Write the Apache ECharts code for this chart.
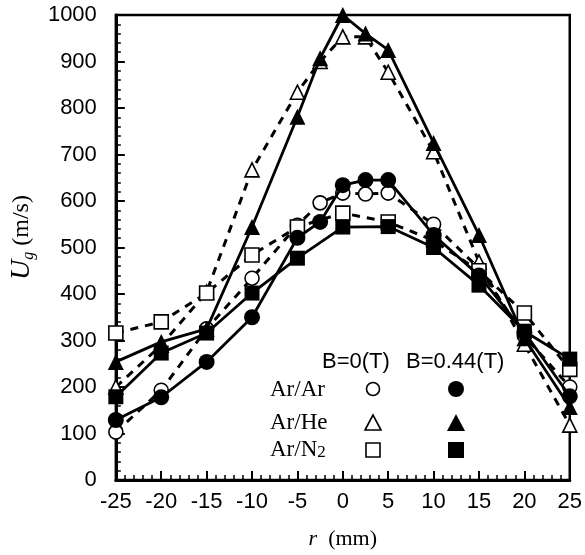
<!DOCTYPE html>
<html>
<head>
<meta charset="utf-8">
<script src="https://cdn.jsdelivr.net/npm/echarts@6/dist/echarts.min.js"></script>
<style>html,body{margin:0;padding:0;background:#fff}#c{width:585px;height:555px}</style>
</head>
<body>
<div id="c"></div>
<script>
// radial positions (mm)
var rFine = [-25, -20, -15, -10, -5, -2.5, 0, 2.5, 5, 10, 15, 20, 25];
var rN2   = [-25, -20, -15, -10, -5, 0, 5, 10, 15, 20, 25];
// Ug (m/s)
var arAr_B0   = [103, 193, 325, 434, 548, 596, 617, 615, 617, 550, 455, 310, 200];
var arAr_B044 = [129, 178, 254, 350, 521, 555, 634, 645, 645, 527, 440, 318, 180];
var arHe_B0   = [200, 290, 404, 667, 834, 900, 953, 953, 877, 706, 469, 292, 118];
var arHe_B044 = [254, 297, 325, 544, 781, 907, 1000, 960, 925, 725, 527, 305, 157];
var arN2_B0   = [316, 340, 402, 484, 544, 574, 555, 515, 450, 359, 238];
var arN2_B044 = [179, 273, 316, 402, 477, 544, 545, 500, 419, 320, 260];
var yTicks = [0, 100, 200, 300, 400, 500, 600, 700, 800, 900, 1000];
var xTicks = [-25, -20, -15, -10, -5, 0, 5, 10, 15, 20, 25];

function pairs(xs, ys) { return xs.map(function (x, i) { return [x, ys[i]]; }); }

function mk(name, xs, ys, symbol, size, filled) {
  return {
    name: name, type: 'line', data: pairs(xs, ys),
    symbol: symbol, symbolSize: size, showAllSymbol: true,
    lineStyle: { color: '#000', width: filled ? 2.8 : 3, type: filled ? 'solid' : [8, 7] },
    itemStyle: { color: filled ? '#000' : '#fff', borderColor: '#000', borderWidth: filled ? 0 : 1.6 },
    z: filled ? 3 : 2, animation: false
  };
}

var chart = echarts.init(document.getElementById('c'));
var sans = 'Liberation Sans';
var serif = 'Liberation Serif';
chart.setOption({
  animation: false,
  grid: { left: 110, right: 15, top: 15, bottom: 75, show: true, borderColor: '#000', borderWidth: 2.5, z: 0 },
  xAxis: {
    type: 'value', min: xTicks[0], max: xTicks[xTicks.length - 1], interval: 5,
    axisLine: { show: true, onZero: false, lineStyle: { color: '#000', width: 3 } },
    axisTick: { show: true, inside: true, length: 9, lineStyle: { color: '#000', width: 2 } },
    minorTick: { show: true, splitNumber: 5, length: 5, lineStyle: { color: '#000', width: 1.5 } },
    splitLine: { show: false },
    axisLabel: { color: '#000', fontFamily: sans, fontSize: 22, margin: 11, formatter: function (v) { return String(v); } },
    name: '{i|r}  (mm)', nameLocation: 'middle', nameGap: 48,
    nameTextStyle: { color: '#000', fontFamily: serif, fontSize: 22,
      rich: { i: { fontFamily: serif, fontStyle: 'italic', fontSize: 22, color: '#000' } } }
  },
  yAxis: {
    type: 'value', min: yTicks[0], max: yTicks[yTicks.length - 1], interval: 100,
    axisLine: { show: true, onZero: false, lineStyle: { color: '#000', width: 3 } },
    axisTick: { show: true, inside: true, length: 9, lineStyle: { color: '#000', width: 2 } },
    minorTick: { show: true, splitNumber: 5, length: 5, lineStyle: { color: '#000', width: 1.5 } },
    splitLine: { show: false },
    axisLabel: { color: '#000', fontFamily: sans, fontSize: 22, margin: 19, formatter: function (v) { return String(v); } },
    name: '{u|U}{g|g} (m/s)', nameLocation: 'middle', nameGap: 70,
    nameTextStyle: { color: '#000', fontFamily: serif, fontSize: 24, padding: [0, 0, 0, 20],
      rich: {
        u: { fontFamily: serif, fontStyle: 'italic', fontSize: 28, color: '#000' },
        g: { fontFamily: serif, fontStyle: 'italic', fontSize: 16, color: '#000', padding: [14, 0, 0, 0] }
      } }
  },
  series: [
    mk('Ar/Ar B=0', rFine, arAr_B0, 'circle', 14, false),
    mk('Ar/He B=0', rFine, arHe_B0, 'triangle', 14, false),
    mk('Ar/N2 B=0', rN2, arN2_B0, 'rect', 14, false),
    mk('Ar/Ar B=0.44', rFine, arAr_B044, 'circle', 16, true),
    mk('Ar/He B=0.44', rFine, arHe_B044, 'triangle', 16, true),
    mk('Ar/N2 B=0.44', rN2, arN2_B044, 'rect', 15, true)
  ],
  graphic: [
    { type: 'text', left: 322, top: 351, style: { text: 'B=0(T)', font: '22px "Liberation Sans"', fill: '#000' } },
    { type: 'text', left: 406, top: 351, style: { text: 'B=0.44(T)', font: '22px "Liberation Sans"', fill: '#000' } },
    { type: 'text', left: 270, top: 378, style: { text: 'Ar/Ar', font: '23px "Liberation Serif"', fill: '#000' } },
    { type: 'text', left: 270, top: 411, style: { text: 'Ar/He', font: '23px "Liberation Serif"', fill: '#000' } },
    { type: 'text', left: 270, top: 438, style: { rich: { n: { font: '23px "Liberation Serif"', fill: '#000' }, s: { font: '17px "Liberation Serif"', fill: '#000', padding: [6, 0, 0, 0] } }, text: '{n|Ar/N}{s|2}' } },
    { type: 'circle', shape: { cx: 373, cy: 389, r: 6.5 }, style: { fill: '#fff', stroke: '#000', lineWidth: 1.6 } },
    { type: 'circle', shape: { cx: 456, cy: 389, r: 8 }, style: { fill: '#000' } },
    { type: 'polygon', shape: { points: [[373, 415], [365, 430], [381, 430]] }, style: { fill: '#fff', stroke: '#000', lineWidth: 1.6 } },
    { type: 'polygon', shape: { points: [[456, 414], [447, 431], [465, 431]] }, style: { fill: '#000' } },
    { type: 'rect', shape: { x: 366, y: 443, width: 14, height: 14 }, style: { fill: '#fff', stroke: '#000', lineWidth: 1.6 } },
    { type: 'rect', shape: { x: 448, y: 442, width: 16, height: 16 }, style: { fill: '#000' } }
  ]
});
</script>
</body>
</html>
